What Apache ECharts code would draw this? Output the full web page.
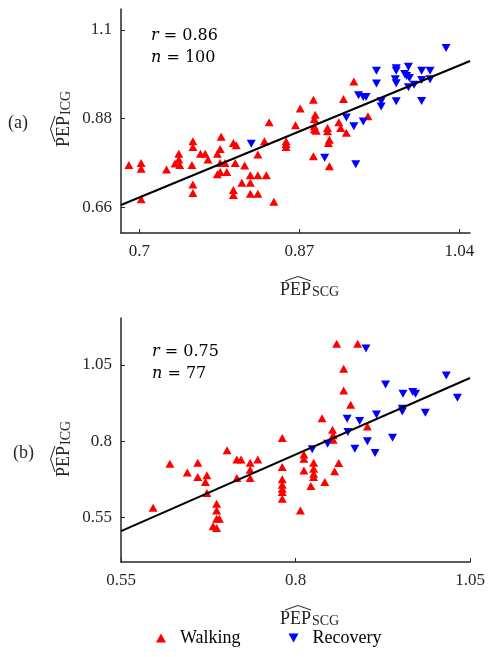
<!DOCTYPE html>
<html><head><meta charset="utf-8">
<script src="https://cdn.jsdelivr.net/npm/echarts@6/dist/echarts.min.js"></script>
<style>html,body{margin:0;padding:0;background:#fff}#c{width:494px;height:657px}</style>
</head><body><div id="c"></div>
<script>
// ---- data ----
const xTicksA = [0.7, 0.87, 1.04];
const yTicksA = [0.66, 0.88, 1.1];
const xTicksB = [0.55, 0.8, 1.05];
const yTicksB = [0.55, 0.8, 1.05];

const walkA = [[0.689,0.765],[0.702,0.770],[0.702,0.756],[0.702,0.680],[0.729,0.754],[0.738,0.769],[0.742,0.793],[0.742,0.779],[0.743,0.765],[0.757,0.824],[0.757,0.810],[0.756,0.765],[0.757,0.717],[0.757,0.696],[0.765,0.793],[0.770,0.793],[0.773,0.779],[0.783,0.793],[0.786,0.805],[0.787,0.835],[0.786,0.770],[0.783,0.742],[0.786,0.748],[0.793,0.748],[0.791,0.770],[0.802,0.770],[0.800,0.820],[0.803,0.814],[0.800,0.703],[0.800,0.691],[0.809,0.721],[0.812,0.764],[0.818,0.740],[0.818,0.721],[0.818,0.694],[0.826,0.740],[0.826,0.694],[0.826,0.791],[0.835,0.740],[0.833,0.824],[0.838,0.871],[0.843,0.674],[0.856,0.824],[0.856,0.817],[0.856,0.810],[0.866,0.864],[0.871,0.905],[0.885,0.927],[0.887,0.890],[0.886,0.879],[0.886,0.861],[0.886,0.853],[0.888,0.850],[0.885,0.787],[0.900,0.857],[0.900,0.849],[0.901,0.820],[0.902,0.828],[0.902,0.762],[0.912,0.871],[0.914,0.857],[0.917,0.929],[0.920,0.845],[0.928,0.972],[0.943,0.886]];
const recA = [[0.819,0.818],[0.897,0.783],[0.930,0.767],[0.920,0.883],[0.928,0.861],[0.938,0.873],[0.933,0.938],[0.938,0.934],[0.941,0.934],[0.952,0.999],[0.952,0.967],[0.957,0.923],[0.957,0.910],[0.973,1.005],[0.973,0.999],[0.972,0.978],[0.973,0.968],[0.973,0.923],[0.986,1.009],[0.982,0.991],[0.984,0.986],[0.987,0.981],[0.986,0.958],[0.992,0.964],[1.000,0.999],[1.000,0.976],[1.000,0.924],[1.009,0.999],[1.009,0.978],[1.026,1.055]];
const fitA = [[0.6806,0.666],[1.0514,1.023]];

const walkB = [[0.596,0.583],[0.620,0.727],[0.645,0.698],[0.660,0.730],[0.660,0.683],[0.673,0.689],[0.671,0.667],[0.673,0.631],[0.687,0.596],[0.687,0.574],[0.687,0.547],[0.691,0.547],[0.682,0.522],[0.687,0.516],[0.702,0.771],[0.716,0.741],[0.722,0.741],[0.716,0.680],[0.735,0.730],[0.735,0.707],[0.735,0.680],[0.746,0.741],[0.781,0.811],[0.781,0.716],[0.781,0.676],[0.781,0.658],[0.781,0.645],[0.781,0.634],[0.781,0.612],[0.807,0.574],[0.812,0.757],[0.812,0.743],[0.812,0.705],[0.822,0.654],[0.826,0.730],[0.826,0.710],[0.826,0.694],[0.826,0.683],[0.838,0.876],[0.842,0.667],[0.853,0.838],[0.854,0.820],[0.854,0.805],[0.856,0.702],[0.862,0.729],[0.859,1.120],[0.869,1.038],[0.869,0.967],[0.879,0.920],[0.889,1.120],[0.903,0.849]];
const recB = [[0.824,0.774],[0.846,0.792],[0.874,0.874],[0.875,0.831],[0.885,0.776],[0.892,0.867],[0.901,1.104],[0.903,0.800],[0.914,0.762],[0.916,0.888],[0.929,0.986],[0.939,0.812],[0.954,0.956],[0.953,0.907],[0.953,0.898],[0.968,0.962],[0.972,0.956],[0.986,0.894],[1.016,1.016],[1.032,0.943]];
const fitB = [[0.55,0.506],[1.05,1.0075]];

const statsA = ['0.86', '100'];
const statsB = ['0.75', '77'];

// ---- chart ----
const SERIF = '"Liberation Serif", "Times New Roman", serif';
const LBL = '#262626';
function xAxisCfg(idx, min, max, ticks) {
  return {type:'value', gridIndex: idx, min, max,
    axisLine:{show:true, onZero:false, lineStyle:{color:'#262626', width:1.5}},
    axisTick:{show:true, inside:true, length:4, customValues: ticks, lineStyle:{color:'#262626'}},
    axisLabel:{customValues: ticks, margin:10, fontFamily:SERIF, fontSize:17, color:LBL},
    splitLine:{show:false}};
}
function yAxisCfg(idx, min, max, ticks) {
  return {type:'value', gridIndex: idx, min, max,
    axisLine:{show:true, onZero:false, lineStyle:{color:'#262626', width:1.5}},
    axisTick:{show:true, inside:true, length:4, customValues: ticks, lineStyle:{color:'#262626'}},
    axisLabel:{customValues: ticks, margin:9, fontFamily:SERIF, fontSize:17, color:LBL},
    splitLine:{show:false}};
}
function scatter(name, data, idx, color, down) {
  return {type:'scatter', name, data, xAxisIndex:idx, yAxisIndex:idx,
    symbol:'triangle', symbolSize:[9,8], symbolRotate: down ? 180 : 0,
    itemStyle:{color, opacity:1}, emphasis:{disabled:true}};
}
function fitLine(data, idx) {
  return {type:'line', name:'fit', data, xAxisIndex:idx, yAxisIndex:idx,
    showSymbol:false, symbol:'none', lineStyle:{color:'#000', width:2}, z:3, silent:true};
}
function axTitle(x, y, sub, rotated) {
  return {type:'group', x, y, rotation: rotated ? Math.PI/2 : 0, children:[
    {type:'text', x:0, y:0, style:{text:'PEP', font:'18px ' + SERIF, fill:LBL, textVerticalAlign:'top'}},
    {type:'polyline', shape:{points:[[5,0],[18,-4.5],[31,0]]}, style:{stroke:LBL, lineWidth:1, fill:null}},
    {type:'text', x:32, y:4, style:{text:sub, font:'14px ' + SERIF, fill:LBL, textVerticalAlign:'top'}}
  ]};
}
function stat(x, y, letter, val) {
  return {type:'text', x, y, style:{text:'{i|' + letter + '} = ' + val,
    font:'16px "DejaVu Serif", serif', fill:'#000', textVerticalAlign:'middle',
    rich:{i:{fontStyle:'italic', fontFamily:'DejaVu Serif', fontSize:16, fill:'#000'}}}};
}

const chart = echarts.init(document.getElementById('c'), null, {renderer:'canvas'});
chart.setOption({
  animation:false,
  backgroundColor:'#fff',
  grid:[
    {left:121, top:9, width:349, height:224},
    {left:121, top:318, width:349, height:244}
  ],
  xAxis:[xAxisCfg(0, 0.6806, 1.0514, xTicksA), xAxisCfg(1, 0.55, 1.05, xTicksB)],
  yAxis:[yAxisCfg(0, 0.5965, 1.152, yTicksA), yAxisCfg(1, 0.405, 1.204, yTicksB)],
  legend:{
    data:[{name:'Walking', icon:'path://M5,0L10,9L0,9Z'}, {name:'Recovery', icon:'path://M0,0L10,0L5,9Z'}],
    left:151, top:624, itemWidth:28, itemHeight:9, itemGap:48, symbolKeepAspect:true,
    textStyle:{fontFamily:SERIF, fontSize:18, color:'#000'}
  },
  series:[
    scatter('Walking', walkA, 0, '#ff0000', false),
    scatter('Recovery', recA, 0, '#0000ff', true),
    fitLine(fitA, 0),
    scatter('Walking', walkB, 1, '#ff0000', false),
    scatter('Recovery', recB, 1, '#0000ff', true),
    fitLine(fitB, 1)
  ],
  graphic:[
    {type:'text', x:8, y:123, style:{text:'(a)', font:'18px ' + SERIF, fill:LBL, textVerticalAlign:'middle'}},
    {type:'text', x:13, y:453, style:{text:'(b)', font:'18px ' + SERIF, fill:LBL, textVerticalAlign:'middle'}},
    axTitle(280, 281, 'SCG', false),
    axTitle(280, 610, 'SCG', false),
    axTitle(55, 147, 'ICG', true),
    axTitle(55, 477, 'ICG', true),
    stat(151, 36, 'r', statsA[0]),
    stat(151, 58, 'n', statsA[1]),
    stat(152, 352, 'r', statsB[0]),
    stat(152, 374, 'n', statsB[1])
  ]
});
</script></body></html>
